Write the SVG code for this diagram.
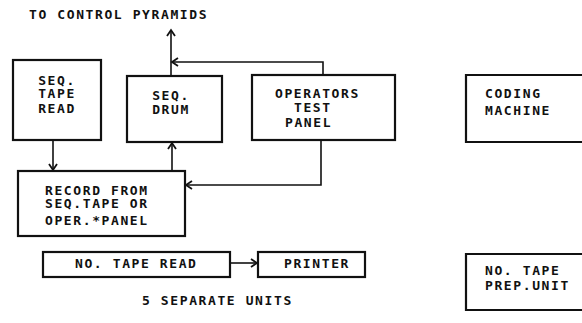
<svg xmlns="http://www.w3.org/2000/svg" width="582" height="323" viewBox="0 0 582 323">
<style>
.bx{fill:none;stroke:#111;stroke-width:2.2}
.t{font-family:"DejaVu Sans Mono","Liberation Mono",monospace;font-weight:bold;font-size:13px;letter-spacing:1.6px;fill:#111}
.c{fill:none;stroke:#111;stroke-width:1.6}
</style>
<defs>
<marker id="ah" markerWidth="10" markerHeight="10" refX="8" refY="5" orient="auto" markerUnits="userSpaceOnUse">
<polyline points="2,1 8,5 2,9" fill="none" stroke="#111" stroke-width="1.8"/>
</marker>
</defs>
<rect width="582" height="323" fill="#fff"/>
<text class="t" x="29" y="18.5">TO CONTROL PYRAMIDS</text>
<g id="seq-tape-read">
<rect class="bx" x="13" y="60" width="88" height="80"/>
<text class="t" x="57" y="84.5" text-anchor="middle">SEQ.</text>
<text class="t" x="57" y="98" text-anchor="middle">TAPE</text>
<text class="t" x="57" y="112.5" text-anchor="middle">READ</text>
</g>
<g id="seq-drum">
<rect class="bx" x="127" y="76" width="95" height="66"/>
<text class="t" x="171" y="99.5" text-anchor="middle">SEQ.</text>
<text class="t" x="171" y="113.5" text-anchor="middle">DRUM</text>
</g>
<g id="operators-test-panel">
<rect class="bx" x="252" y="75" width="143" height="65"/>
<text class="t" x="275" y="97.5">OPERATORS</text>
<text class="t" x="294" y="111.5">TEST</text>
<text class="t" x="285" y="127">PANEL</text>
</g>
<g id="coding-machine">
<path class="bx" d="M590,75 H466 V142 H590"/>
<text class="t" x="485" y="97.5">CODING</text>
<text class="t" x="485" y="114.5">MACHINE</text>
</g>
<g id="record">
<rect class="bx" x="18" y="171" width="167" height="65"/>
<text class="t" x="45" y="194.5">RECORD FROM</text>
<text class="t" x="45" y="208">SEQ.TAPE OR</text>
<text class="t" x="45" y="224.5">OPER.*PANEL</text>
</g>
<g id="no-tape-read">
<rect class="bx" x="43" y="252" width="187" height="25"/>
<text class="t" x="75" y="268">NO. TAPE READ</text>
</g>
<g id="printer">
<rect class="bx" x="258" y="252" width="107" height="25"/>
<text class="t" x="317" y="268" text-anchor="middle">PRINTER</text>
</g>
<g id="no-tape-prep">
<path class="bx" d="M590,254 H466 V310 H590"/>
<text class="t" x="485" y="274.5">NO. TAPE</text>
<text class="t" x="485" y="289.5">PREP.UNIT</text>
</g>
<text class="t" x="142" y="305">5 SEPARATE UNITS</text>
<g id="connectors">
<path class="c" d="M53,140 V170" marker-end="url(#ah)"/>
<path class="c" d="M172,171 V143" marker-end="url(#ah)"/>
<path class="c" d="M321,140 V185 H186" marker-end="url(#ah)"/>
<path class="c" d="M323,75 V62 H172" marker-end="url(#ah)"/>
<path class="c" d="M171,76 V30" marker-end="url(#ah)"/>
<path class="c" d="M230,263 H257" marker-end="url(#ah)"/>
</g>
</svg>
